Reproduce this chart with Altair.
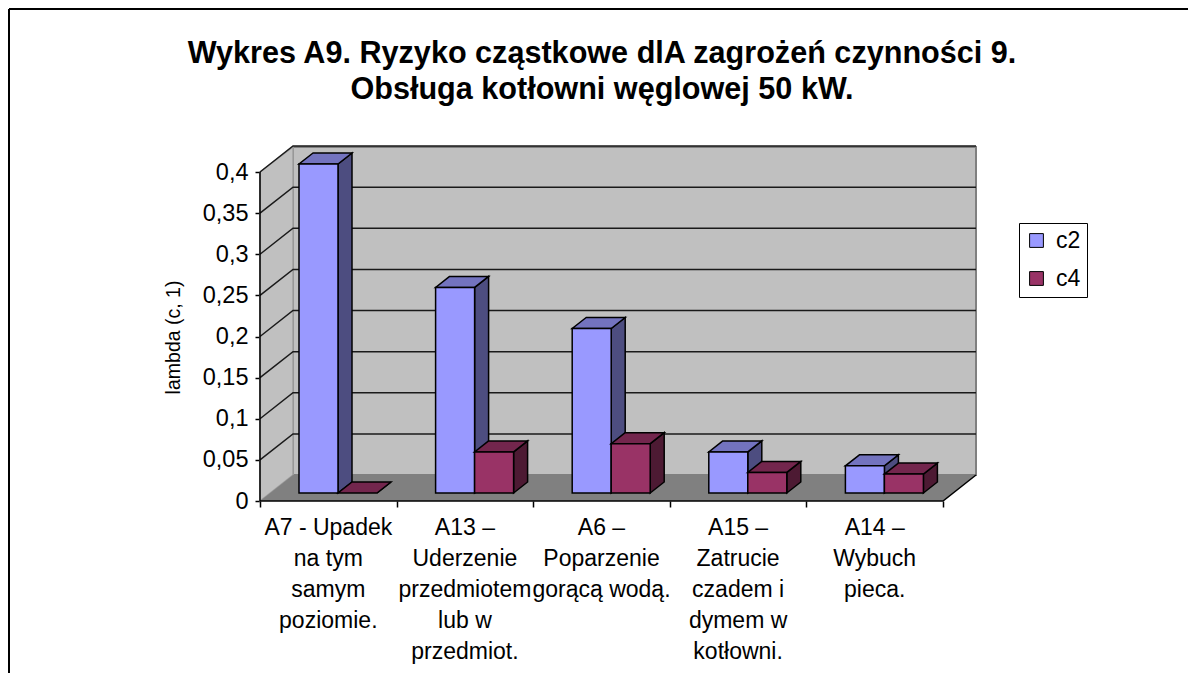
import altair as alt
import pandas as pd

categories = [
    "A7 - Upadek\nna tym\nsamym\npoziomie.",
    "A13 –\nUderzenie\nprzedmiotem\nlub w\nprzedmiot.",
    "A6 –\nPoparzenie\ngorącą wodą.",
    "A15 –\nZatrucie\nczadem i\ndymem w\nkotłowni.",
    "A14 –\nWybuch\npieca.",
]
c2_values = [0.4, 0.25, 0.2, 0.05, 0.033]
c4_values = [0.0, 0.05, 0.06, 0.025, 0.023]
y_ticks = [0, 0.05, 0.1, 0.15, 0.2, 0.25, 0.3, 0.35, 0.4]
series_names = ["c2", "c4"]
front_colors = ["#9999FF", "#993366"]
side_colors = ["#4D4D80", "#4D1A33"]
top_colors = ["#7373BF", "#73264D"]
title_lines = ["Wykres A9. Ryzyko cząstkowe dlA zagrożeń czynności 9.", "Obsługa kotłowni węglowej 50 kW."]

W, H = 716, 354
PX = 136.6      # px per category
PY = 822.5      # px per unit of value
WALL_DX, WALL_DY = 33 / PX, 26 / PY
BAR_OFF, BAR_W = 39 / PX, 39 / PX
BAR_FLOOR = 8 / PY
BAR_DX, BAR_DY = 14 / PX, 11 / PY
XDOM = [0, W / PX]
YDOM = [0, H / PY]
FONT = "Liberation Sans"
n = len(categories)

x_axis = alt.Axis(values=list(range(n + 1)), labels=False, title=None, domain=False, grid=False,
                  tickSize=6, tickColor="black", tickWidth=1.5)
y_axis = alt.Axis(values=y_ticks, title="lambda (c, 1)", titleFont=FONT, titleFontSize=19.5, titleFontWeight="normal",
                  titleColor="black", titleX=-77, titleY=190, domain=False, grid=False,
                  tickSize=5, tickColor="black", tickWidth=1.5,
                  labelFont=FONT, labelFontSize=23.5, labelColor="black", labelPadding=7,
                  labelExpr="replace(format(datum.value,''),'.',',')")


def X(field="x"):
    return alt.X(field, type="quantitative", scale=alt.Scale(domain=XDOM, nice=False, zero=False), axis=x_axis)


def Y(field="y"):
    return alt.Y(field, type="quantitative", scale=alt.Scale(domain=YDOM, nice=False, zero=False), axis=y_axis)


X2 = alt.X2("x2")
Y2 = alt.Y2("y2")

# walls
back = alt.Chart(pd.DataFrame([{"x": WALL_DX, "x2": n + WALL_DX, "y": WALL_DY, "y2": H / PY}])).mark_rect(
    fill="#C0C0C0", stroke="#808080", strokeWidth=2
).encode(x=X(), x2=X2, y=Y(), y2=Y2)
side_wall = alt.Chart(pd.DataFrame([
    {"x": 0, "y": 0, "y2": 0.4},
    {"x": WALL_DX, "y": WALL_DY, "y2": H / PY},
])).mark_area(fill="#C0C0C0", stroke="#A0A0A0", strokeWidth=1.5).encode(x=X(), y=Y(), y2=Y2)
floor = alt.Chart(pd.DataFrame([
    {"y": 0, "x": 0, "x2": n},
    {"y": WALL_DY, "x": WALL_DX, "x2": n + WALL_DX},
])).mark_area(orient="horizontal", fill="#808080").encode(y=Y(), x=X(), x2=X2)

grid_rows = []
for v in y_ticks[1:]:
    grid_rows += [
        {"level": v, "o": 0, "x": 0, "y": v},
        {"level": v, "o": 1, "x": WALL_DX, "y": v + WALL_DY},
        {"level": v, "o": 2, "x": n + WALL_DX, "y": v + WALL_DY},
    ]
grid = alt.Chart(pd.DataFrame(grid_rows)).mark_line(color="#1a1a1a", strokeWidth=1.5, clip=False).encode(
    x=X(), y=Y(), detail="level:N", order="o:Q"
)
axis_rows = [
    {"g": "y", "o": 0, "x": 0, "y": 0.4},
    {"g": "y", "o": 1, "x": 0, "y": 0},
    {"g": "y", "o": 2, "x": n, "y": 0},
    {"g": "y", "o": 3, "x": n + WALL_DX, "y": WALL_DY},
]
axes_line = alt.Chart(pd.DataFrame(axis_rows)).mark_line(color="black", strokeWidth=1.5).encode(
    x=X(), y=Y(), detail="g:N", order="o:Q"
)

# bars
layers = []
for s, (name, vals) in enumerate(zip(series_names, [c2_values, c4_values])):
    side_rows, top_rows, front_rows = [], [], []
    for i, v in enumerate(vals):
        x0 = i + BAR_OFF + s * BAR_W
        x1 = x0 + BAR_W
        top = v + BAR_FLOOR
        side_rows += [
            {"c": i, "x": x1, "y": BAR_FLOOR, "y2": top},
            {"c": i, "x": x1 + BAR_DX, "y": BAR_FLOOR + BAR_DY, "y2": top + BAR_DY},
        ]
        top_rows += [
            {"c": i, "y": top, "x": x0, "x2": x1},
            {"c": i, "y": top + BAR_DY, "x": x0 + BAR_DX, "x2": x1 + BAR_DX},
        ]
        if v > 0:
            front_rows.append({"series": name, "x": x0, "x2": x1, "y": BAR_FLOOR, "y2": top})
    layers.append(alt.Chart(pd.DataFrame(side_rows)).mark_area(fill=side_colors[s], stroke="black", strokeWidth=1.5).encode(
        x=X(), y=Y(), y2=Y2, detail="c:N"))
    layers.append(alt.Chart(pd.DataFrame(top_rows)).mark_area(orient="horizontal", fill=top_colors[s], stroke="black", strokeWidth=1.5).encode(
        y=Y(), x=X(), x2=X2, detail="c:N"))
    layers.append(alt.Chart(pd.DataFrame(front_rows)).mark_rect(stroke="black", strokeWidth=1.5).encode(
        x=X(), x2=X2, y=Y(), y2=Y2,
        color=alt.Color("series:N", scale=alt.Scale(domain=series_names, range=front_colors), legend=alt.Legend(
            title=None, orient="none", legendX=759, legendY=76, symbolType="square", symbolSize=190,
            symbolStrokeColor="black", symbolStrokeWidth=1, symbolOpacity=1,
            labelFont=FONT, labelFontSize=23, labelColor="black", labelOffset=8, rowPadding=14,
            strokeColor="black", fillColor="white", padding=6,
        )),
    ))

labels = alt.Chart(pd.DataFrame({"label": categories, "x": [i + 0.5 for i in range(n)]})).mark_text(
    lineBreak="\n", baseline="top", align="center", font=FONT, fontSize=23, lineHeight=31, color="black"
).encode(x=X(), y=alt.value(H + 16), text="label:N")

frame = [
    alt.Chart(pd.DataFrame({"a": [0]})).mark_rule(color="black", strokeWidth=2, clip=False).encode(
        x=alt.value(x1), x2=alt.value(x2), y=alt.value(y1), y2=alt.value(y2))
    for x1, x2, y1, y2 in [(-251, -251, -138, 540), (-251, 940, -138, -138)]
]

chart = alt.layer(frame[0], frame[1], back, side_wall, floor, grid, axes_line, *layers, labels).properties(
    width=W, height=H,
    autosize=alt.AutoSizeParams(type="none"),
    padding={"left": 252, "top": 139, "right": 212, "bottom": 172},
    title=alt.TitleParams(text=title_lines, font=FONT, fontSize=30.6, fontWeight="bold", color="black",
                          lineHeight=36, anchor="middle", dx=-16, offset=0, dy=98),
).configure_view(stroke=None).resolve_scale(x="shared", y="shared")

chart.save("out.html", embed_options={"renderer": "svg", "actions": False})
